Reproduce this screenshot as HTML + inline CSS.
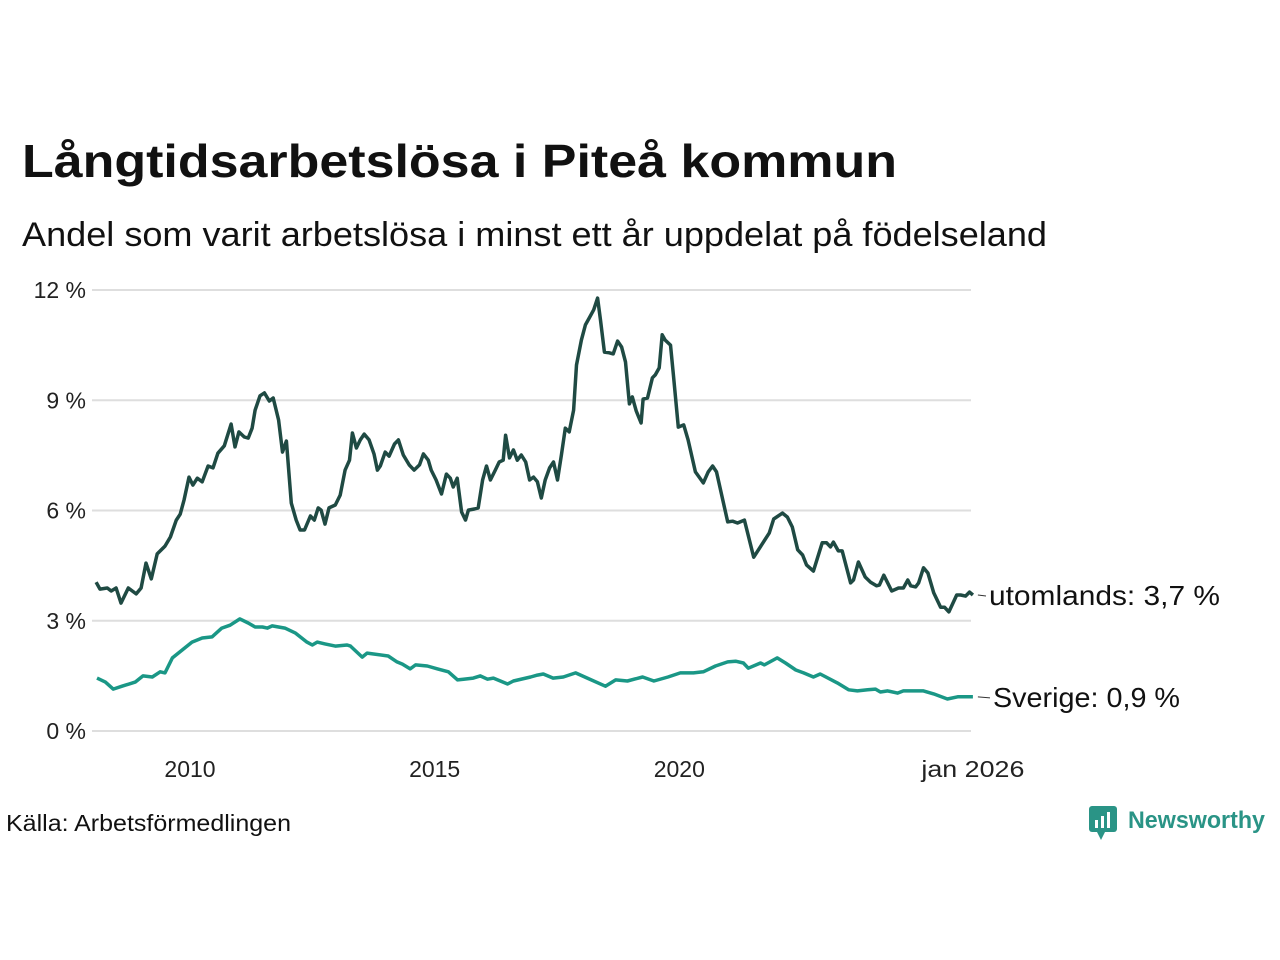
<!DOCTYPE html>
<html><head><meta charset="utf-8"><style>
body{margin:0;background:#fff;font-family:"Liberation Sans","DejaVu Sans",sans-serif;}
#wrap{position:relative;width:1280px;height:960px;overflow:hidden;}
</style></head><body>
<div id="wrap">
<svg id="chart" width="1280" height="960">
<text x="22" y="177" font-size="46" font-weight="bold" fill="#111" textLength="875" lengthAdjust="spacingAndGlyphs">Långtidsarbetslösa i Piteå kommun</text>
<text x="22" y="246" font-size="34" fill="#111" textLength="1025" lengthAdjust="spacingAndGlyphs">Andel som varit arbetslösa i minst ett år uppdelat på födelseland</text>
<g id="grid"></g><g id="lines"></g><g id="labels"></g>
<text x="6" y="831" font-size="23" fill="#111" textLength="285" lengthAdjust="spacingAndGlyphs">Källa: Arbetsförmedlingen</text>
<g>
<rect x="1089" y="806" width="28" height="26" rx="3" fill="#2a9486"/>
<polygon points="1097,832 1105,832 1101,840" fill="#2a9486"/>
<rect x="1095" y="820" width="3" height="8" fill="#fff"/><rect x="1101" y="816" width="3" height="12" fill="#fff"/><rect x="1107" y="812" width="3" height="16" fill="#fff"/>
<text x="1128" y="828" font-size="24" font-weight="bold" fill="#2a9486" textLength="137" lengthAdjust="spacingAndGlyphs">Newsworthy</text>
</g>
</svg>
</div>
<script>
const yTicks=[0,3,6,9,12];
const yTickLabels=["0 %","3 %","6 %","9 %","12 %"];
const xTicks=[2010,2015,2020,2026];
const xTickLabels=["2010","2015","2020","jan 2026"];
const abroadYears=[2008.08,2008.16,2008.31,2008.39,2008.49,2008.59,2008.74,2008.90,2009.00,2009.10,2009.21,2009.33,2009.49,2009.60,2009.72,2009.80,2009.88,2009.98,2010.06,2010.15,2010.25,2010.37,2010.47,2010.57,2010.70,2010.84,2010.92,2011.00,2011.11,2011.19,2011.27,2011.33,2011.43,2011.52,2011.62,2011.70,2011.81,2011.89,2011.97,2012.07,2012.17,2012.25,2012.34,2012.46,2012.54,2012.62,2012.68,2012.76,2012.84,2012.97,2013.07,2013.17,2013.26,2013.32,2013.40,2013.48,2013.56,2013.66,2013.76,2013.83,2013.89,2013.99,2014.07,2014.18,2014.26,2014.36,2014.48,2014.58,2014.69,2014.77,2014.87,2014.93,2015.03,2015.14,2015.24,2015.32,2015.38,2015.46,2015.55,2015.63,2015.69,2015.81,2015.89,2015.98,2016.06,2016.14,2016.24,2016.32,2016.40,2016.45,2016.53,2016.61,2016.69,2016.77,2016.86,2016.94,2017.02,2017.10,2017.18,2017.26,2017.35,2017.43,2017.51,2017.59,2017.67,2017.75,2017.84,2017.90,2018.00,2018.08,2018.16,2018.25,2018.33,2018.39,2018.47,2018.57,2018.65,2018.74,2018.82,2018.90,2018.98,2019.04,2019.12,2019.22,2019.26,2019.35,2019.45,2019.51,2019.59,2019.65,2019.71,2019.82,2019.88,2019.98,2020.09,2020.18,2020.33,2020.49,2020.59,2020.68,2020.76,2020.99,2021.09,2021.19,2021.33,2021.52,2021.84,2021.93,2022.11,2022.21,2022.31,2022.42,2022.52,2022.60,2022.74,2022.92,2023.01,2023.09,2023.15,2023.25,2023.33,2023.50,2023.56,2023.66,2023.80,2023.91,2024.03,2024.09,2024.18,2024.34,2024.48,2024.58,2024.67,2024.73,2024.83,2024.89,2024.99,2025.08,2025.20,2025.34,2025.42,2025.51,2025.67,2025.75,2025.85,2025.93,2026.00];
const abroadValues=[4.05,3.86,3.89,3.81,3.89,3.48,3.89,3.73,3.89,4.57,4.14,4.82,5.03,5.28,5.74,5.90,6.29,6.91,6.69,6.88,6.78,7.21,7.16,7.56,7.76,8.35,7.73,8.14,8.00,7.97,8.24,8.73,9.12,9.20,8.98,9.06,8.46,7.59,7.89,6.20,5.74,5.47,5.47,5.85,5.74,6.07,6.01,5.63,6.07,6.15,6.42,7.10,7.37,8.11,7.70,7.92,8.08,7.92,7.54,7.10,7.21,7.59,7.48,7.81,7.92,7.51,7.24,7.10,7.24,7.54,7.37,7.10,6.83,6.45,6.99,6.88,6.64,6.88,5.96,5.74,6.01,6.04,6.07,6.83,7.21,6.83,7.10,7.32,7.37,8.05,7.43,7.65,7.37,7.51,7.32,6.83,6.91,6.78,6.34,6.83,7.16,7.32,6.83,7.51,8.24,8.14,8.73,9.96,10.64,11.05,11.24,11.46,11.78,11.18,10.31,10.29,10.26,10.61,10.45,10.04,8.90,9.09,8.71,8.38,9.03,9.06,9.61,9.69,9.88,10.78,10.64,10.50,9.69,8.27,8.33,7.92,7.05,6.75,7.05,7.21,7.05,5.69,5.71,5.66,5.74,4.73,5.39,5.77,5.93,5.82,5.55,4.93,4.79,4.52,4.35,5.12,5.12,5.01,5.14,4.90,4.90,4.03,4.11,4.60,4.19,4.05,3.95,3.97,4.24,3.81,3.89,3.89,4.11,3.95,3.92,4.03,4.44,4.30,3.76,3.37,3.37,3.24,3.70,3.70,3.67,3.78,3.70];
const swedenYears=[2008.10,2008.27,2008.43,2008.61,2008.88,2009.04,2009.23,2009.39,2009.49,2009.64,2010.04,2010.25,2010.45,2010.65,2010.82,2011.02,2011.19,2011.33,2011.48,2011.58,2011.68,2011.94,2012.15,2012.39,2012.50,2012.60,2012.76,2012.97,2013.21,2013.28,2013.52,2013.62,2014.05,2014.23,2014.34,2014.50,2014.61,2014.85,2015.06,2015.28,2015.47,2015.59,2015.79,2015.93,2016.08,2016.20,2016.49,2016.61,2016.96,2017.10,2017.22,2017.42,2017.63,2017.88,2018.12,2018.49,2018.70,2018.94,2019.25,2019.48,2019.77,2020.02,2020.29,2020.49,2020.74,2020.99,2021.15,2021.31,2021.41,2021.66,2021.74,2021.96,2022.00,2022.17,2022.38,2022.54,2022.74,2022.88,2023.23,2023.46,2023.64,2023.85,2024.01,2024.11,2024.26,2024.46,2024.58,2024.79,2024.99,2025.20,2025.48,2025.69,2026.00];
const swedenValues=[1.44,1.33,1.14,1.22,1.33,1.50,1.47,1.61,1.58,1.99,2.42,2.53,2.56,2.80,2.88,3.05,2.94,2.83,2.83,2.80,2.86,2.80,2.67,2.42,2.34,2.42,2.37,2.31,2.34,2.31,2.01,2.12,2.04,1.88,1.82,1.69,1.80,1.77,1.69,1.61,1.39,1.41,1.44,1.50,1.41,1.44,1.28,1.36,1.47,1.52,1.55,1.44,1.47,1.58,1.44,1.22,1.39,1.36,1.47,1.36,1.47,1.58,1.58,1.61,1.77,1.88,1.90,1.85,1.71,1.85,1.80,1.96,1.99,1.85,1.66,1.58,1.47,1.55,1.31,1.12,1.09,1.12,1.14,1.06,1.09,1.03,1.09,1.09,1.09,1.01,0.87,0.93,0.93];
const seriesLabels=["utomlands: 3,7 %","Sverige: 0,9 %"];
const NS="http://www.w3.org/2000/svg";
const xs=y=>190+(y-2010)*48.93;
const ys=v=>731-v*36.75;
function mk(tag,attrs,parent){const e=document.createElementNS(NS,tag);for(const k in attrs)e.setAttribute(k,attrs[k]);parent.appendChild(e);return e;}
const grid=document.getElementById('grid'),lines=document.getElementById('lines'),labels=document.getElementById('labels');
yTicks.forEach((t,i)=>{
 const l=mk('line',{x1:92,x2:971,y1:ys(t),y2:ys(t),stroke:'#dedede','stroke-width':2},grid);
 
 
 const tx=mk('text',{x:86,y:ys(t)+8,'text-anchor':'end','font-size':23,fill:'#222'},grid);
 tx.textContent=yTickLabels[i];
 
 
});
xTicks.forEach((t,i)=>{
 const tx=mk('text',{x:xs(t),y:777,'text-anchor':'middle','font-size':23,fill:'#222'},grid);
 tx.textContent=xTickLabels[i];
 if(i===3){tx.setAttribute('textLength','103');tx.setAttribute('lengthAdjust','spacingAndGlyphs');}
 
 
});
function path(xa,va,color,name){
 const d=xa.map((x,i)=>(i?'L':'M')+xs(x).toFixed(1)+','+ys(va[i]).toFixed(1)).join('');
 const p=mk('path',{d:d,fill:'none',stroke:color,'stroke-width':3.5,'stroke-linejoin':'round'},lines);
 
 
}
path(swedenYears,swedenValues,'#1a9786','line-sverige');
path(abroadYears,abroadValues,'#1f4a43','line-utomlands');
function endLabel(xa,va,text,name,tx,w){
 const x0=xs(xa[xa.length-1]),y0=ys(va[va.length-1]);
 const l=mk('line',{x1:x0+5,x2:tx-3,y1:y0,y2:y0+1,stroke:'#333','stroke-width':1},labels);
 
 
 const t=mk('text',{x:tx,y:y0+10,'font-size':28,fill:'#111',textLength:w,lengthAdjust:'spacingAndGlyphs'},labels);
 t.textContent=text;
 
 
}
endLabel(abroadYears,abroadValues,seriesLabels[0],'label-utomlands',989,231);
endLabel(swedenYears,swedenValues,seriesLabels[1],'label-sverige',993,187);
</script>
</body></html>
